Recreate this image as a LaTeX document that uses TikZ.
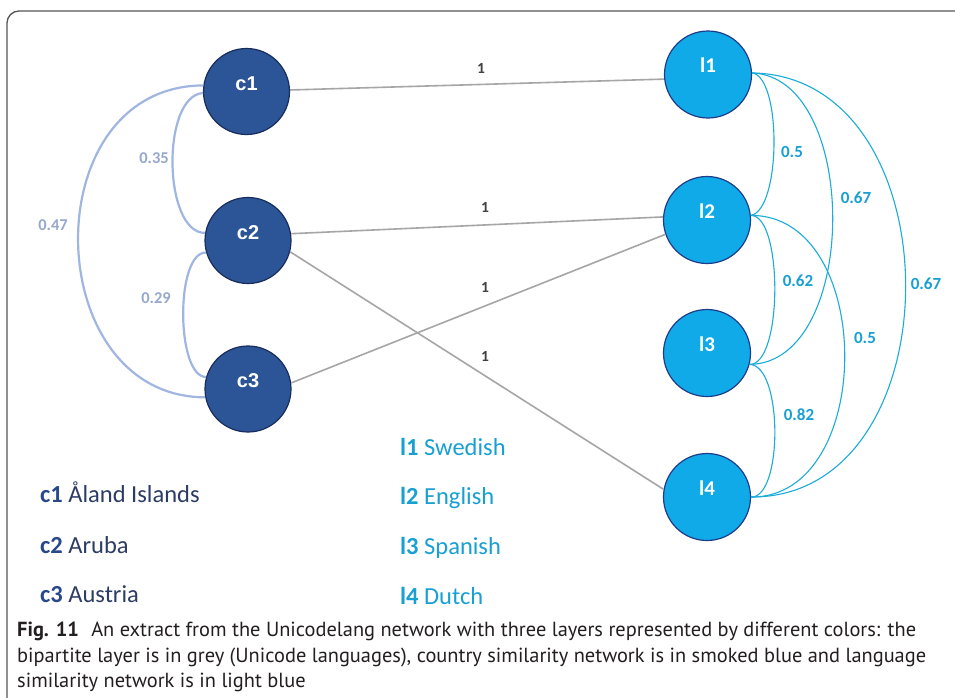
\documentclass[tikz,border=0pt]{standalone}
\usepackage{fontspec}
\setmainfont{Carlito}
\newfontfamily\arialf{Liberation Sans}
\newfontfamily\capf{PT Sans}
\definecolor{cfill}{RGB}{44,85,151}
\definecolor{cborder}{RGB}{24,45,92}
\definecolor{lfill}{RGB}{16,170,232}
\definecolor{lborder}{RGB}{30,60,140}
\definecolor{carc}{RGB}{160,182,224}
\definecolor{clab}{RGB}{150,168,206}
\definecolor{larc}{RGB}{28,172,216}
\definecolor{llab}{RGB}{24,160,210}
\definecolor{bip}{RGB}{166,166,166}
\definecolor{biplab}{RGB}{64,64,64}
\definecolor{legc}{RGB}{40,72,140}
\definecolor{legctext}{RGB}{44,60,100}
\definecolor{frame}{RGB}{85,85,85}
\definecolor{captext}{RGB}{35,31,32}
\tikzset{
  cnode/.style={circle, draw=cborder, fill=cfill, line width=1.2pt, minimum size=86pt, inner sep=0pt},
  lnode/.style={circle, draw=lborder, fill=lfill, line width=1.2pt, minimum size=87pt, inner sep=0pt},
  ctxt/.style={text=white, font=\arialf\bfseries\fontsize{20}{20}\selectfont, yshift=8pt},
  ltxt/.style={text=white, font=\bfseries\fontsize{21}{21}\selectfont, yshift=9pt},
  carcs/.style={draw=carc, line width=2.2pt},
  larcs/.style={draw=larc, line width=1.1pt},
  bipe/.style={draw=bip, line width=1.6pt},
  clabel/.style={text=clab, font=\bfseries\fontsize{16.5}{16.5}\selectfont, inner sep=0pt},
  llabel/.style={text=llab, font=\bfseries\fontsize{17}{17}\selectfont, inner sep=0pt},
  blabel/.style={text=biplab, font=\bfseries\fontsize{15.5}{15.5}\selectfont, inner sep=0pt},
  legend/.style={anchor=base west, inner sep=0pt, font=\fontsize{24.5}{24.5}\selectfont},
  capline/.style={anchor=base west, inner sep=0pt, text=captext, font=\capf\fontsize{20.4}{20.4}\selectfont}
}
\begin{document}
\begin{tikzpicture}[x=1pt, y=-1pt]
\useasboundingbox (0,0) rectangle (955,697);
\fill[white] (0,0) rectangle (955,697);
% frame
\draw[frame, line width=1.3pt, rounded corners=12pt] (7,700) -- (7,11) -- (960,11);

% nodes
\node[cnode, label={[ctxt]center:c1}] (c1) at (246.5,91.5) {};
\node[cnode, label={[ctxt]center:c2}] (c2) at (248,240.5) {};
\node[cnode, label={[ctxt]center:c3}] (c3) at (248,389) {};
\node[lnode, label={[ltxt]center:l1}] (l1) at (708,74.5) {};
\node[lnode, label={[ltxt]center:l2}] (l2) at (707,220) {};
\node[lnode, label={[ltxt]center:l3}] (l3) at (707,353) {};
\node[lnode, label={[ltxt]center:l4}] (l4) at (707,497) {};

% bipartite edges
\draw[bipe] (c1.2) -- (l1.186);
\draw[bipe] (c2.9) -- (l2.176);
\draw[bipe] (c2.-15) -- (l4.170);
\draw[bipe] (c3.8) -- (l2.199);
\node[blabel] (b1) at (481,68) {1};
\node[blabel] (b2) at (485,207) {1};
\node[blabel] (b3) at (485,287) {1};
\node[blabel] (b4) at (485,356) {1};

% country similarity arcs
\draw[carcs] (c1.182) .. controls (161,96) and (163,233) .. (c2.170);
\draw[carcs] (c2.196) .. controls (175,252) and (176,377) .. (c3.164);
\draw[carcs] (c1.172) .. controls (33,86) and (39,397) .. (c3.191);
\node[clabel] (s12) at (154,158) {0.35};
\node[clabel] (s23) at (156,298) {0.29};
\node[clabel] (s13) at (53,225) {0.47};

% language similarity arcs
\draw[larcs] (l1.2) .. controls (782,77) and (781,210) .. (l2.6);
\draw[larcs] (l1.2) .. controls (860,77) and (860,363) .. (l3.-15);
\draw[larcs] (l1.2) .. controls (957,76) and (957,498) .. (l4.0);
\draw[larcs] (l2.6) .. controls (783,215) and (783,365) .. (l3.-15);
\draw[larcs] (l2.6) .. controls (876,215) and (876,498) .. (l4.0);
\draw[larcs] (l3.-15) .. controls (783,365) and (783,498) .. (l4.0);
\node[llabel] (t12) at (792,152) {0.5};
\node[llabel] (t13) at (856,198) {0.67};
\node[llabel] (t14) at (926,284) {0.67};
\node[llabel] (t23) at (798,281) {0.62};
\node[llabel] (t24) at (865,338) {0.5};
\node[llabel] (t34) at (799,415) {0.82};

% legends
\node[legend, text=legctext] (lc1) at (40,502) {\textcolor{legc}{\bfseries c1} Åland Islands};
\node[legend, text=legctext] (lc2) at (40,553) {\textcolor{legc}{\bfseries c2} Aruba};
\node[legend, text=legctext] (lc3) at (40,602) {\textcolor{legc}{\bfseries c3} Austria};
\node[legend, text=llab] (ll1) at (400,455) {{\bfseries l1} Swedish};
\node[legend, text=llab] (ll2) at (400,504) {{\bfseries l2} English};
\node[legend, text=llab] (ll3) at (400,554) {{\bfseries l3} Spanish};
\node[legend, text=llab] (ll4) at (400,604) {{\bfseries l4} Dutch};

% caption
\node[capline] (cap1) at (17,636) {{\bfseries Fig. 11}\hspace{0.6em}An extract from the Unicodelang network with three layers represented by different colors: the};
\node[capline] (cap2) at (17,662) {bipartite layer is in grey (Unicode languages), country similarity network is in smoked blue and language};
\node[capline] (cap3) at (17,687) {similarity network is in light blue};
\end{tikzpicture}
\end{document}
